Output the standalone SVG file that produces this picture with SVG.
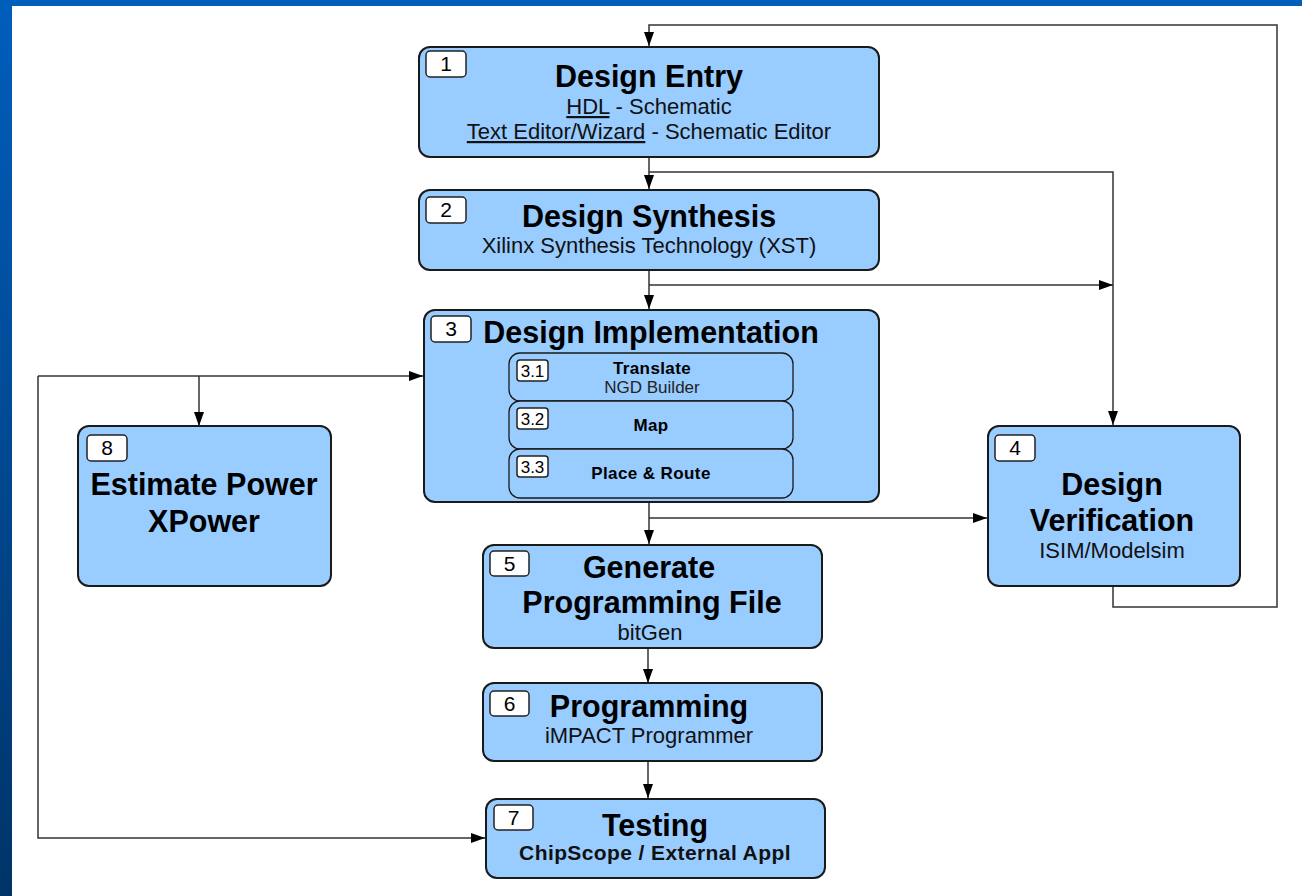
<svg xmlns="http://www.w3.org/2000/svg" width="1302" height="896" viewBox="0 0 1302 896">
<defs>
<linearGradient id="lbar" x1="0" y1="0" x2="0" y2="1">
<stop offset="0" stop-color="#005EBC"/>
<stop offset="1" stop-color="#003468"/>
</linearGradient>
<marker id="ah" viewBox="0 0 14 10" refX="14" refY="5" markerWidth="14" markerHeight="10" markerUnits="userSpaceOnUse" orient="auto">
<path d="M0,0 L14,5 L0,10 Z" fill="#000"/>
</marker>
<style>
.node{fill:#99CCFF;stroke:#1a1a1a;stroke-width:2}
.sub{fill:#99CCFF;stroke:#1a1a1a;stroke-width:1.3}
.badge{fill:#fff;stroke:#222;stroke-width:1.5}
.bn{font-family:"Liberation Sans",Arial,sans-serif;font-size:21px;fill:#000;text-anchor:middle}
.sbn{font-family:"Liberation Sans",Arial,sans-serif;font-size:17px;fill:#000;text-anchor:middle}
.t{font-family:"Liberation Sans",Arial,sans-serif;font-size:30.5px;font-weight:bold;fill:#000;text-anchor:middle}
.s{font-family:"Liberation Sans",Arial,sans-serif;font-size:22px;fill:#111;text-anchor:middle}
.sb{font-family:"Liberation Sans",Arial,sans-serif;font-size:21px;font-weight:bold;fill:#111;text-anchor:middle;letter-spacing:0.4px}
.st{font-family:"Liberation Sans",Arial,sans-serif;font-size:17px;font-weight:bold;fill:#000;text-anchor:middle;letter-spacing:0.4px}
.ss{font-family:"Liberation Sans",Arial,sans-serif;font-size:17px;fill:#222;text-anchor:middle}
.c{fill:none;stroke:#333;stroke-width:1.5}
</style>
</defs>
<rect x="0" y="0" width="1302" height="896" fill="#fff"/>
<rect x="0" y="0" width="12" height="896" fill="url(#lbar)"/>
<rect x="0" y="0" width="1302" height="6" fill="#005EBC"/>

<g id="connectors">
<polyline class="c" points="1113,586 1113,607 1277,607 1277,25 649,25 649,46" marker-end="url(#ah)"/>
<line class="c" x1="649" y1="157" x2="649" y2="189" marker-end="url(#ah)"/>
<polyline class="c" points="649,172 1113,172 1113,425" marker-end="url(#ah)"/>
<line class="c" x1="649" y1="270" x2="649" y2="309" marker-end="url(#ah)"/>
<line class="c" x1="649" y1="285" x2="1113" y2="285" marker-end="url(#ah)"/>
<line class="c" x1="649" y1="502" x2="649" y2="544" marker-end="url(#ah)"/>
<line class="c" x1="649" y1="518" x2="987" y2="518" marker-end="url(#ah)"/>
<line class="c" x1="648" y1="648" x2="648" y2="683" marker-end="url(#ah)"/>
<line class="c" x1="648" y1="761" x2="648" y2="798" marker-end="url(#ah)"/>
<line class="c" x1="38" y1="376" x2="423" y2="376" marker-end="url(#ah)"/>
<polyline class="c" points="38,376 38,838 485,838" marker-end="url(#ah)"/>
<line class="c" x1="199" y1="376" x2="199" y2="426" marker-end="url(#ah)"/>
</g>

<g id="node1">
<rect class="node" x="419" y="47" width="460" height="110" rx="11"/>
<rect class="badge" x="426" y="51" width="40" height="26" rx="4"/>
<text class="bn" x="446" y="71">1</text>
<text class="t" x="649" y="87">Design Entry</text>
<text class="s" x="649" y="114"><tspan text-decoration="underline">HDL</tspan> - Schematic</text>
<text class="s" x="649" y="139"><tspan text-decoration="underline">Text Editor/Wizard</tspan> - Schematic Editor</text>
</g>

<g id="node2">
<rect class="node" x="419" y="190" width="460" height="80" rx="11"/>
<rect class="badge" x="426" y="197" width="40" height="26" rx="4"/>
<text class="bn" x="446" y="217">2</text>
<text class="t" x="649" y="227">Design Synthesis</text>
<text class="s" x="649" y="253">Xilinx Synthesis Technology (XST)</text>
</g>

<g id="node3">
<rect class="node" x="424" y="310" width="455" height="192" rx="11"/>
<rect class="badge" x="431" y="316" width="40" height="26" rx="4"/>
<text class="bn" x="451" y="336">3</text>
<text class="t" x="651" y="343">Design Implementation</text>
<g id="node3_1">
<rect class="sub" x="509" y="353" width="284" height="48" rx="11"/>
<rect class="badge" x="517" y="360" width="31" height="21" rx="3"/>
<text class="sbn" x="532.5" y="377">3.1</text>
<text class="st" x="652" y="374">Translate</text>
<text class="ss" x="652" y="393">NGD Builder</text>
</g>
<g id="node3_2">
<rect class="sub" x="509" y="401" width="284" height="48" rx="11"/>
<rect class="badge" x="517" y="408" width="31" height="21" rx="3"/>
<text class="sbn" x="532.5" y="425">3.2</text>
<text class="st" x="651" y="431">Map</text>
</g>
<g id="node3_3">
<rect class="sub" x="509" y="449" width="284" height="49" rx="11"/>
<rect class="badge" x="517" y="456" width="31" height="21" rx="3"/>
<text class="sbn" x="532.5" y="473">3.3</text>
<text class="st" x="651" y="479">Place &amp; Route</text>
</g>
</g>

<g id="node8">
<rect class="node" x="78" y="426" width="253" height="160" rx="11"/>
<rect class="badge" x="87" y="435" width="40" height="26" rx="4"/>
<text class="bn" x="107" y="455">8</text>
<text class="t" x="204" y="495">Estimate Power</text>
<text class="t" x="204" y="532">XPower</text>
</g>

<g id="node4">
<rect class="node" x="988" y="426" width="252" height="160" rx="11"/>
<rect class="badge" x="995" y="435" width="40" height="26" rx="4"/>
<text class="bn" x="1015" y="455">4</text>
<text class="t" x="1112" y="495">Design</text>
<text class="t" x="1112" y="531">Verification</text>
<text class="s" x="1112" y="558">ISIM/Modelsim</text>
</g>

<g id="node5">
<rect class="node" x="483" y="545" width="339" height="103" rx="11"/>
<rect class="badge" x="490" y="551" width="39" height="25" rx="4"/>
<text class="bn" x="509.5" y="571">5</text>
<text class="t" x="649" y="578">Generate</text>
<text class="t" x="652" y="613">Programming File</text>
<text class="s" x="650" y="640">bitGen</text>
</g>

<g id="node6">
<rect class="node" x="483" y="683" width="339" height="78" rx="11"/>
<rect class="badge" x="490" y="691" width="39" height="25" rx="4"/>
<text class="bn" x="509.5" y="711">6</text>
<text class="t" x="649" y="717">Programming</text>
<text class="s" x="649" y="743">iMPACT Programmer</text>
</g>

<g id="node7">
<rect class="node" x="486" y="799" width="339" height="79" rx="11"/>
<rect class="badge" x="494" y="805" width="39" height="25" rx="4"/>
<text class="bn" x="513.5" y="825">7</text>
<text class="t" x="655" y="836">Testing</text>
<text class="sb" x="655" y="860">ChipScope / External Appl</text>
</g>
</svg>
